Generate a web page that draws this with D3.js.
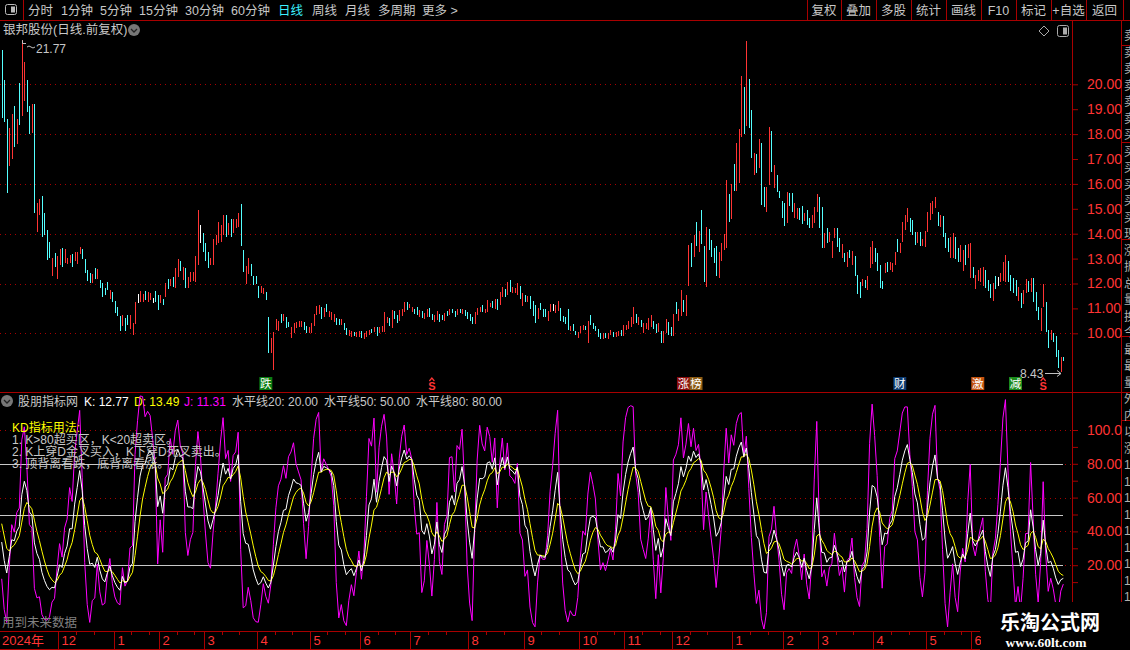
<!DOCTYPE html>
<html>
<head>
<meta charset="utf-8">
<script src="https://cdn.jsdelivr.net/npm/d3@7"></script>
<style>
body{margin:0;background:#000;overflow:hidden}
svg{display:block;font-family:"Liberation Sans","Noto Sans CJK SC",sans-serif}
</style>
</head>
<body>
<svg id="chart" width="1130" height="650"></svg>
<script>
// daily bars
const opens = [
21.35,20.14,18.58,16.75,17.04,19.10,17.63,20.04,18.76,19.36,
20.14,19.10,18.09,19.18,14.11,14.78,15.49,14.79,14.12,13.65,
12.33,13.18,12.23,12.77,13.40,12.87,12.81,12.87,13.14,12.95,
12.81,13.20,13.36,12.96,12.51,12.38,12.04,12.58,12.20,12.11,
11.98,11.78,12.03,11.40,11.63,11.27,11.04,10.67,10.34,10.60,
10.69,10.19,9.96,10.40,11.39,11.27,11.27,11.67,11.29,11.37,
11.33,11.67,11.50,11.23,11.34,11.50,12.14,11.93,12.22,11.84,
12.28,12.86,12.17,12.58,11.84,12.11,12.15,12.11,12.77,13.98,
13.99,13.61,13.25,12.77,12.77,13.58,13.64,13.71,13.98,14.72,
13.98,14.56,14.05,14.25,14.29,15.16,13.32,12.01,12.41,12.75,
12.27,12.27,11.87,11.66,11.61,11.64,10.61,9.23,8.56,10.16,
10.14,10.75,10.53,10.61,10.44,9.86,10.03,10.23,10.27,10.30,
10.44,10.26,10.03,10.03,10.32,10.77,10.81,11.04,10.70,11.15,
10.70,10.57,10.50,10.57,10.53,10.36,10.40,10.17,9.92,9.90,
10.04,9.87,9.87,10.08,9.80,9.90,9.96,10.13,10.07,10.24,
10.06,10.08,10.10,10.46,10.57,10.23,10.88,10.71,10.54,10.73,
10.90,11.23,11.06,10.90,10.96,11.01,10.70,10.88,10.59,10.67,
10.99,10.75,10.50,10.57,10.75,10.72,10.54,10.85,10.75,10.96,
10.88,10.75,10.93,10.81,10.91,10.84,10.75,10.64,10.40,10.77,
10.90,11.09,10.86,10.90,11.07,11.26,10.99,11.36,11.17,11.50,
11.74,11.57,12.11,11.64,11.64,11.57,11.87,11.13,11.51,11.30,
11.47,11.27,11.11,10.59,11.17,10.96,10.93,10.53,10.90,11.05,
10.83,10.94,10.97,10.67,10.64,10.93,10.14,10.34,10.08,9.86,
10.06,10.16,10.26,9.66,10.71,10.37,10.26,10.13,9.97,9.82,
9.97,9.82,9.96,10.02,9.90,9.92,10.10,9.92,10.16,10.19,
10.27,10.40,10.75,10.36,10.51,10.06,10.19,10.16,10.27,10.48,
10.34,10.10,10.08,9.66,10.03,10.44,10.24,9.92,11.24,10.54,
10.73,11.31,10.73,11.93,13.61,13.11,14.45,13.31,14.92,13.48,
11.88,14.15,13.72,13.38,13.48,12.24,12.93,13.38,13.44,15.55,
14.62,16.76,15.76,16.05,17.93,19.88,18.37,20.18,18.94,16.39,
17.16,16.68,17.60,15.86,14.92,15.99,18.11,15.85,16.33,15.69,
15.28,15.19,14.45,15.59,15.59,14.68,14.62,14.99,15.08,14.54,
14.92,14.59,14.27,14.45,14.89,15.46,15.03,13.44,14.19,13.71,
13.07,13.85,14.21,13.81,13.07,13.18,12.71,13.32,12.77,13.09,
12.31,12.04,11.94,12.11,11.77,12.67,12.80,13.41,13.18,12.71,
12.07,12.44,12.82,12.57,12.48,12.77,13.76,13.24,13.71,14.18,
14.51,14.59,14.52,14.05,13.64,14.03,13.55,13.51,14.11,14.58,
14.81,15.05,14.86,14.31,14.68,13.99,13.79,13.07,13.07,13.85,
13.38,12.88,12.53,13.52,13.07,12.27,12.65,11.81,12.13,12.10,
11.94,12.51,12.11,11.94,11.33,12.29,12.10,12.10,12.13,12.08,
12.87,12.31,12.18,12.11,11.33,11.58,11.19,11.64,12.07,11.68,
12.18,11.64,11.04,10.12,11.10,11.24,10.10,9.76,9.97,9.86,
9.30,8.46,9.03];

const highs = [
21.38,20.17,18.61,18.23,18.81,19.13,18.62,20.07,21.77,20.91,
20.17,19.13,19.21,19.21,15.22,15.38,15.52,14.82,14.15,13.68,
13.01,13.21,13.11,13.37,13.43,13.37,13.01,13.15,13.17,13.28,
13.28,13.48,13.39,12.99,12.54,12.41,12.37,12.61,12.58,12.14,
12.01,11.81,12.06,11.74,11.66,11.30,11.07,10.70,10.72,10.63,
10.72,10.72,10.40,11.26,11.58,11.69,11.59,11.70,11.66,11.61,
11.43,11.70,11.53,11.53,11.37,12.03,12.17,12.17,12.25,12.61,
12.99,12.89,12.68,12.61,12.25,12.48,12.45,13.11,14.95,14.35,
14.02,13.64,13.28,13.01,13.78,13.95,14.48,14.35,14.75,14.75,
14.44,14.59,14.58,14.58,14.85,15.19,13.35,12.70,13.01,12.78,
12.30,12.30,11.90,11.90,11.83,11.67,10.64,9.83,10.07,10.56,
10.50,10.78,10.76,10.64,10.47,10.24,10.40,10.47,10.50,10.48,
10.47,10.29,10.27,10.43,10.76,11.11,11.14,11.07,11.00,11.18,
10.91,10.87,10.78,10.60,10.56,10.56,10.43,10.20,10.13,10.11,
10.07,10.07,10.11,10.11,10.03,10.09,10.13,10.16,10.27,10.27,
10.27,10.29,10.86,10.67,10.60,10.94,10.91,10.74,10.94,10.96,
11.27,11.26,11.18,11.07,10.99,11.04,10.94,10.91,10.83,10.99,
11.02,10.78,10.75,10.91,10.78,10.75,10.83,10.88,10.99,10.99,
10.91,10.99,10.96,10.99,10.94,10.87,10.78,10.67,10.87,11.00,
11.04,11.12,10.96,11.34,11.20,11.29,11.37,11.39,11.67,11.87,
11.77,12.07,12.14,11.85,11.81,12.01,11.90,11.61,11.54,11.50,
11.50,11.30,11.14,11.00,11.20,10.99,10.96,10.91,11.18,11.18,
11.14,11.30,11.00,10.70,10.67,10.96,10.29,10.37,10.11,10.07,
10.29,10.33,10.29,10.50,10.74,10.40,10.29,10.16,10.00,10.00,
10.00,10.00,10.13,10.05,10.05,10.11,10.13,10.33,10.33,10.50,
10.67,11.07,10.78,10.64,10.54,10.40,10.43,10.60,10.74,10.51,
10.37,10.40,10.11,10.11,10.56,10.47,10.27,10.78,11.27,10.96,
11.74,11.34,11.54,13.55,13.64,13.95,14.48,14.12,14.95,13.51,
14.26,14.18,13.75,13.41,13.51,13.28,13.61,13.98,16.16,15.58,
15.98,16.79,17.63,18.19,20.33,19.91,21.74,20.21,18.97,17.23,
17.19,17.79,17.63,15.89,15.89,18.27,18.14,16.76,16.36,15.72,
15.31,15.22,15.66,15.62,15.62,15.22,15.05,15.02,15.11,14.82,
14.95,14.62,14.75,15.09,15.58,15.49,15.06,14.02,14.22,14.08,
13.71,14.24,14.24,13.84,13.57,13.21,13.25,13.35,13.31,13.12,
12.34,12.07,12.18,12.14,12.32,13.48,13.71,13.44,13.21,12.74,
12.10,12.81,12.85,12.88,12.81,13.28,13.79,13.61,14.46,14.75,
15.02,14.62,14.55,14.08,14.08,14.06,13.79,14.11,14.89,15.22,
15.31,15.49,14.89,14.75,14.71,14.02,13.82,13.88,14.02,13.88,
13.41,13.55,13.35,13.55,13.57,13.61,12.68,12.34,12.54,12.61,
12.68,12.54,12.14,11.97,12.01,12.32,12.28,12.41,12.85,13.15,
12.90,12.34,12.21,12.14,11.87,11.61,11.74,12.18,12.10,12.24,
12.21,11.67,11.07,11.00,11.97,11.27,10.13,10.13,10.00,9.89,
9.33,9.06,9.06];

const lows = [
18.63,18.50,15.62,16.72,17.01,17.50,17.60,18.37,18.73,19.33,
18.88,18.01,18.06,14.82,14.08,14.75,13.88,13.95,12.95,13.01,
12.30,12.68,12.20,12.74,12.68,12.84,12.78,12.84,12.68,12.92,
12.78,13.17,12.97,12.41,12.12,12.01,12.01,12.18,12.17,11.81,
11.47,11.54,11.74,11.37,11.27,10.80,10.70,10.11,10.31,10.11,
10.33,10.16,9.93,10.37,11.20,11.24,11.24,11.34,11.26,11.34,
11.23,11.27,10.94,11.20,11.14,11.47,11.79,11.90,11.87,11.81,
12.25,12.52,12.14,11.81,11.81,12.08,12.12,12.08,12.74,13.61,
13.28,12.92,12.61,12.74,12.74,13.55,13.61,13.68,13.95,13.88,
13.95,13.88,14.02,14.22,14.26,13.52,12.48,11.98,12.38,12.32,
11.94,11.98,11.41,11.63,11.58,11.34,9.20,9.20,8.53,10.13,
10.11,10.40,10.50,10.20,10.24,9.83,10.00,10.20,10.24,10.27,
10.13,10.00,10.00,10.00,10.29,10.74,10.78,10.56,10.67,10.87,
10.67,10.54,10.47,10.33,10.33,10.33,10.13,9.93,9.89,9.87,
9.89,9.84,9.84,9.80,9.77,9.87,9.93,10.00,10.04,9.89,
10.03,10.05,10.07,10.43,10.29,10.20,10.56,10.40,10.51,10.70,
10.87,10.94,11.03,10.87,10.78,10.74,10.67,10.63,10.56,10.64,
10.67,10.54,10.47,10.54,10.47,10.54,10.51,10.70,10.72,10.80,
10.67,10.72,10.83,10.78,10.70,10.56,10.51,10.37,10.37,10.74,
10.87,10.87,10.83,10.87,11.04,11.00,10.96,10.94,11.14,11.47,
11.47,11.54,11.66,11.61,11.61,11.54,11.37,11.10,11.27,11.27,
10.96,10.70,10.43,10.56,10.94,10.67,10.67,10.50,10.87,10.91,
10.80,10.91,10.50,10.47,10.37,10.13,10.11,10.11,9.93,9.83,
10.03,10.13,10.13,9.63,10.33,10.16,10.11,9.84,9.76,9.79,
9.83,9.79,9.93,9.87,9.87,9.89,9.89,9.89,10.13,10.16,
10.24,10.37,10.43,10.33,10.24,10.03,10.16,10.13,10.24,10.16,
10.00,10.07,9.60,9.63,10.00,9.93,9.89,9.89,10.78,10.51,
10.70,10.87,10.70,11.90,12.68,13.08,13.51,13.28,13.59,12.08,
11.85,13.35,13.08,12.81,12.30,12.21,12.90,13.35,13.41,14.48,
14.59,15.73,15.73,16.02,17.90,17.99,18.34,18.26,17.05,16.36,
16.43,16.65,15.15,15.09,14.89,15.96,16.47,15.82,15.69,15.45,
14.65,14.32,14.42,15.13,14.89,14.65,14.59,14.55,14.38,14.51,
14.35,14.24,14.24,14.42,14.86,14.22,13.41,13.41,13.61,13.68,
13.04,13.82,13.48,13.28,13.04,12.88,12.68,13.04,12.74,12.32,
11.57,11.41,11.91,11.81,11.74,12.64,12.77,12.85,12.50,11.81,
11.78,12.41,12.45,12.54,12.45,12.74,13.28,13.21,13.68,14.15,
14.48,14.08,13.95,13.55,13.61,13.52,13.52,13.48,14.08,14.55,
14.78,15.02,14.32,14.28,13.88,13.41,13.28,13.04,13.04,12.98,
12.88,12.85,12.50,12.74,13.04,12.24,12.21,11.78,12.10,12.07,
11.91,11.81,11.70,11.41,11.30,11.78,11.91,12.07,12.10,12.05,
12.05,11.70,11.61,11.51,11.30,11.03,11.16,11.61,11.67,11.65,
11.27,10.90,10.54,10.09,11.07,10.07,9.42,9.73,9.67,9.06,
8.59,8.43,8.89];

const closes = [
18.66,18.53,15.65,18.20,18.78,17.53,18.59,18.40,21.74,20.88,
18.91,18.04,19.18,14.85,15.19,15.35,13.91,13.98,12.98,13.04,
12.98,12.71,13.08,13.34,12.71,13.34,12.98,13.12,12.71,13.25,
13.25,13.45,13.00,12.44,12.15,12.04,12.34,12.21,12.55,11.84,
11.50,11.57,11.77,11.71,11.30,10.83,10.73,10.14,10.69,10.14,
10.36,10.69,10.37,11.23,11.39,11.66,11.56,11.37,11.63,11.58,
11.33,11.30,10.97,11.50,11.17,12.00,11.82,12.14,11.90,12.58,
12.96,12.55,12.65,11.84,12.22,12.45,12.42,13.08,14.92,13.98,
13.31,12.95,12.64,12.98,13.75,13.92,14.45,14.32,14.72,13.91,
14.41,13.91,14.55,14.55,14.82,13.55,12.51,12.67,12.98,12.35,
11.97,12.01,11.44,11.87,11.80,11.37,9.23,9.80,10.04,10.53,
10.47,10.43,10.73,10.23,10.27,10.21,10.37,10.44,10.47,10.45,
10.16,10.03,10.24,10.40,10.73,11.08,11.11,10.59,10.97,10.90,
10.88,10.84,10.75,10.36,10.36,10.53,10.16,9.96,10.10,10.08,
9.92,10.04,10.08,9.83,10.00,10.06,10.10,10.03,10.24,9.92,
10.24,10.26,10.83,10.64,10.32,10.91,10.59,10.43,10.91,10.93,
11.24,10.97,11.15,11.04,10.81,10.77,10.91,10.66,10.80,10.96,
10.70,10.57,10.72,10.88,10.50,10.57,10.80,10.73,10.96,10.83,
10.70,10.96,10.86,10.96,10.73,10.59,10.54,10.40,10.84,10.97,
11.01,10.90,10.93,11.31,11.17,11.03,11.34,10.97,11.64,11.84,
11.50,12.04,11.69,11.82,11.78,11.98,11.40,11.58,11.30,11.47,
10.99,10.73,10.46,10.97,10.97,10.70,10.70,10.88,11.15,11.05,
11.11,11.27,10.53,10.50,10.40,10.16,10.26,10.14,9.96,10.04,
10.26,10.30,10.16,10.47,10.36,10.19,10.14,9.87,9.79,9.97,
9.86,9.97,10.10,9.90,10.02,10.08,9.92,10.30,10.30,10.47,
10.64,11.04,10.46,10.61,10.27,10.37,10.40,10.57,10.71,10.19,
10.03,10.37,9.63,10.08,10.53,9.96,9.92,10.75,10.81,10.93,
11.71,10.90,11.51,13.52,12.71,13.92,13.54,14.09,13.62,12.11,
14.23,13.38,13.11,12.84,12.33,13.25,13.58,13.95,16.13,14.51,
15.95,15.76,17.60,18.16,20.30,18.02,21.71,18.29,17.08,17.20,
16.46,17.76,15.18,15.12,15.86,18.24,16.50,16.73,15.72,15.48,
14.68,14.35,15.63,15.16,14.92,15.19,15.02,14.58,14.41,14.79,
14.38,14.27,14.72,15.06,15.55,14.25,13.44,13.99,13.64,14.05,
13.68,14.21,13.51,13.31,13.54,12.91,13.22,13.07,13.28,12.35,
11.60,11.44,12.15,11.84,12.29,13.45,13.68,12.88,12.53,11.84,
11.81,12.78,12.48,12.85,12.78,13.25,13.31,13.58,14.43,14.72,
14.99,14.11,13.98,13.58,14.05,13.55,13.76,14.08,14.86,15.19,
15.28,15.46,14.35,14.72,13.91,13.44,13.31,13.85,13.99,13.01,
12.91,13.52,13.32,12.77,13.54,13.58,12.24,12.31,12.51,12.58,
12.65,11.84,11.73,11.44,11.98,11.81,12.10,12.38,12.82,13.12,
12.08,11.73,11.64,11.54,11.84,11.06,11.71,12.15,11.70,12.21,
11.30,10.93,10.57,10.97,11.94,10.10,9.45,10.10,9.70,9.09,
8.62,9.03,8.92];

// month labels on the date axis and the bar where each month starts
const monthLabels = ['12','1','2','3','4','5','6','7','8','9','10','11','12','1','2','3','4','5','6'];
const monthStart  = [23,45,63,81,102,123,143,163,186,208,230,248,267,291,311,325,347,368,386];

const priceTicks = [10,11,12,13,14,15,16,17,18,19,20];
const priceGrid  = [10,12,14,16,18,20];
const kdjTicks   = [10,20,30,40,50,60,70,80,90,100];
const kdjGrid    = [20,40,60,80,100];
const levels     = [20,50,80];
const lastKDJ    = [12.77, 13.49, 11.31];

// signal marks under the bars
const marks = [
  {i:105, t:'跌', bg:'#0b7d12'},
  {i:171, t:'S',  bg:null},
  {i:271, t:'涨', bg:'#8c0c0c'},
  {i:276, t:'榜', bg:'#8a5a12'},
  {i:357, t:'财', bg:'#0c3a70'},
  {i:388, t:'激', bg:'#c4520e'},
  {i:403, t:'减', bg:'#1b8a1b'},
  {i:414, t:'S',  bg:null}
];

const RED = '#ff3434', DRED = '#a80000', CYAN = '#54ffff', TXT = '#c8c8c8';
const N = closes.length;

const svg = d3.select('#chart');
svg.append('rect').attr('width',1130).attr('height',650).attr('fill','#000');

const x  = d3.scalePoint().domain(d3.range(N)).range([1.7, 1063.3]);
const yP = d3.scaleLinear().domain([10,20]).range([333.3, 84.3]);
const yK = d3.scaleLinear().domain([0,100]).range([599, 430]);
const step = x.step();

// ---------- toolbar ----------
const tb = svg.append('g').attr('font-size', 12.5);
tb.append('line').attr('x1',0).attr('x2',1130).attr('y1',20.5).attr('y2',20.5).attr('stroke',DRED);
tb.append('line').attr('x1',23.5).attr('x2',23.5).attr('y1',0).attr('y2',20).attr('stroke',DRED);
tb.append('rect').attr('x',5.5).attr('y',4.5).attr('width',11).attr('height',10).attr('rx',2)
  .attr('fill','none').attr('stroke','#bbb');
tb.append('rect').attr('x',11).attr('y',6.5).attr('width',4).attr('height',6).attr('fill','#bbb');

const leftBtns = [['分时',28],['1分钟',61],['5分钟',100],['15分钟',139],['30分钟',185],
  ['60分钟',231],['日线',278],['周线',312],['月线',345],['多周期',378],['更多 >',422]];
tb.selectAll('text.lb').data(leftBtns).join('text')
  .attr('x', d => d[1]).attr('y', 15)
  .attr('fill', d => d[0] === '日线' ? '#3cf0ff' : TXT)
  .text(d => d[0]);

const rightBtns = ['复权','叠加','多股','统计','画线','F10','标记','+自选','返回'];
const btnEdges = [807,841,876,911,946,981,1016,1051,1086,1123];
tb.selectAll('line.sep').data(btnEdges).join('line')
  .attr('x1', d => d + 0.5).attr('x2', d => d + 0.5).attr('y1',0).attr('y2',20).attr('stroke',DRED);
tb.selectAll('text.rb').data(rightBtns).join('text')
  .attr('x', (d,k) => (btnEdges[k] + btnEdges[k+1]) / 2).attr('y', 15)
  .attr('text-anchor','middle').attr('fill', TXT).text(d => d);

// ---------- right side frame ----------
svg.append('line').attr('x1',1072.5).attr('x2',1072.5).attr('y1',21).attr('y2',602).attr('stroke',DRED);
svg.append('line').attr('x1',1121.5).attr('x2',1121.5).attr('y1',21).attr('y2',650).attr('stroke',DRED);
[45,142,239,336,392,420].forEach(y => {
  svg.append('line').attr('x1',1121).attr('x2',1130).attr('y1',y+0.5).attr('y2',y+0.5).attr('stroke',DRED);
});
const sideChars = ['卖','卖','卖','卖','卖','卖','买','买','买','买','买','买','现','涨','振','总','量','换','今','最','最','量','外','内','以','涨','1','1','1','1','1','1','1','1','1','1'];
svg.append('g').attr('font-size',12).attr('fill','#b0b0b0')
  .selectAll('text').data(sideChars).join('text')
  .attr('x',1124).attr('y',(d,k) => 40 + k*16.5).text(d => d);

// ---------- price panel ----------
const gP = svg.append('g');
gP.append('text').attr('x',3).attr('y',34).attr('font-size',12.5).attr('fill',TXT).text('银邦股份(日线.前复权)');
gP.append('circle').attr('cx',134).attr('cy',30).attr('r',6).attr('fill','#777');
gP.append('path').attr('d','M131,29 l3,3 l3,-3').attr('fill','none').attr('stroke','#222').attr('stroke-width',1.3);
gP.append('path').attr('d','M1044,26 l5,5 l-5,5 l-5,-5 z').attr('fill','none').attr('stroke','#aaa');
gP.append('rect').attr('x',1057.5).attr('y',25.5).attr('width',11).attr('height',11).attr('rx',2)
  .attr('fill','none').attr('stroke','#aaa');
gP.append('rect').attr('x',1063).attr('y',27.5).attr('width',4).attr('height',7).attr('fill','#aaa');

gP.selectAll('line.grid').data(priceGrid).join('line')
  .attr('x1',0).attr('x2',1072).attr('y1', d => Math.round(yP(d)) + 0.5).attr('y2', d => Math.round(yP(d)) + 0.5)
  .attr('stroke',DRED).attr('stroke-dasharray','1,4');

const pAxis = gP.append('g').attr('transform','translate(1072,0)')
  .call(d3.axisRight(yP).tickValues(priceTicks).tickFormat(d3.format('.2f')).tickSize(6).tickPadding(9));
pAxis.select('.domain').remove();
pAxis.selectAll('line').attr('stroke',DRED);
pAxis.selectAll('text').attr('fill',RED).attr('font-size',14).attr('font-family','Liberation Sans');

svg.append('clipPath').attr('id','clipP').append('rect').attr('x',0).attr('y',21).attr('width',1072).attr('height',370);
const barColor = i => closes[i] > opens[i] ? RED : closes[i] < opens[i] ? CYAN : '#ffffff';
const bars = gP.append('g').attr('clip-path','url(#clipP)').attr('shape-rendering','crispEdges');
bars.selectAll('line').data(d3.range(N)).join('line')
  .attr('x1', i => Math.round(x(i)) + 0.5).attr('x2', i => Math.round(x(i)) + 0.5)
  .attr('y1', i => yP(highs[i])).attr('y2', i => yP(lows[i]))
  .attr('stroke', barColor).attr('stroke-width',1);

// high / low notes
const iHi = d3.maxIndex(highs), iLo = d3.minIndex(lows);
const hx = Math.round(x(iHi));
gP.append('path').attr('d',`M${hx+0.5},${yP(highs[iHi])} V43.5 H${hx+4} M${hx+5},47 q2,-2 4,0 t4,0`)
  .attr('fill','none').attr('stroke','#c0c0c0');
gP.append('text').attr('x',hx+14).attr('y',53).attr('font-size',12).attr('fill',TXT).text(d3.format('.2f')(highs[iHi]));
const lx = Math.round(x(iLo));
gP.append('text').attr('x',lx-41).attr('y',378).attr('font-size',12).attr('fill',TXT).text(d3.format('.2f')(lows[iLo]));
gP.append('path').attr('d',`M${lx-16},373.5 H${lx} l-4,-3 M${lx},373.5 l-4,3`).attr('fill','none').attr('stroke','#c0c0c0');

const mk = gP.append('g');
marks.forEach(m => {
  const cx = x(m.i);
  if (m.bg) {
    mk.append('rect').attr('x',cx-6.5).attr('y',377).attr('width',13).attr('height',13).attr('fill',m.bg);
    mk.append('text').attr('x',cx).attr('y',388).attr('text-anchor','middle').attr('font-size',11.5)
      .attr('fill','#fff').text(m.t);
  } else {
    mk.append('path').attr('d',`M${cx-2.5},381 l2.5,-3 l2.5,3`).attr('fill','none').attr('stroke',RED).attr('stroke-width',1.2);
    mk.append('text').attr('x',cx).attr('y',390).attr('text-anchor','middle').attr('font-size',11)
      .attr('font-weight','bold').attr('fill',RED).text(m.t);
  }
});

svg.append('line').attr('x1',0).attr('x2',1130).attr('y1',392.5).attr('y2',392.5).attr('stroke',DRED);

// ---------- KDJ panel ----------
const kv = [], dv = [], jv = [];
let k = 50, d = 50;
for (let i = 0; i < N; i++) {
  const s = Math.max(0, i - 8);
  const hh = d3.max(highs.slice(s, i + 1)), ll = d3.min(lows.slice(s, i + 1));
  const rsv = hh === ll ? 50 : (closes[i] - ll) / (hh - ll) * 100;
  k = (2 * k + rsv) / 3;
  d = (2 * d + k) / 3;
  kv.push(k); dv.push(d); jv.push(3 * k - 2 * d);
}

const gK = svg.append('g');
gK.append('circle').attr('cx',7).attr('cy',401).attr('r',6).attr('fill','#777');
gK.append('path').attr('d','M4,400 l3,3 l3,-3').attr('fill','none').attr('stroke','#222').attr('stroke-width',1.3);
const head = [
  ['股朋指标网', 18, TXT],
  ['K: ' + lastKDJ[0].toFixed(2), 84, '#ffffff'],
  ['D: ' + lastKDJ[1].toFixed(2), 134, '#ffff00'],
  ['J: ' + lastKDJ[2].toFixed(2), 184, '#ff00ff'],
  ['水平线20: ' + levels[0].toFixed(2), 232, TXT],
  ['水平线50: ' + levels[1].toFixed(2), 324, TXT],
  ['水平线80: ' + levels[2].toFixed(2), 416, TXT]
];
gK.selectAll('text.h').data(head).join('text')
  .attr('x', h => h[1]).attr('y', 406).attr('font-size',12).attr('fill', h => h[2]).text(h => h[0]);

gK.selectAll('line.grid').data(kdjGrid).join('line')
  .attr('x1',0).attr('x2',1072).attr('y1', v => Math.round(yK(v)) + 0.5).attr('y2', v => Math.round(yK(v)) + 0.5)
  .attr('stroke',DRED).attr('stroke-dasharray','1,4');
gK.selectAll('line.lvl').data(levels).join('line')
  .attr('x1',0).attr('x2',1063).attr('y1', v => Math.round(yK(v)) + 0.5).attr('y2', v => Math.round(yK(v)) + 0.5)
  .attr('stroke','#c8c8c8');

const kAxis = gK.append('g').attr('transform','translate(1072,0)')
  .call(d3.axisRight(yK).tickValues(kdjTicks).tickSize(6).tickPadding(9)
    .tickFormat(v => v === 100 ? '100.0' : v % 20 === 0 ? v.toFixed(2) : ''));
kAxis.select('.domain').remove();
kAxis.selectAll('line').attr('stroke',DRED);
kAxis.selectAll('text').attr('fill',RED).attr('font-size',14).attr('font-family','Liberation Sans');

svg.append('clipPath').attr('id','clipK').append('rect').attr('x',0).attr('y',394).attr('width',1072).attr('height',235);
const lines = gK.append('g').attr('clip-path','url(#clipK)').attr('fill','none').attr('stroke-width',1);
const line = d3.line().x((v,i) => x(i)).y(v => yK(v));
lines.append('path').attr('d', line(jv)).attr('stroke','#ff00ff');
lines.append('path').attr('d', line(dv)).attr('stroke','#ffff00');
lines.append('path').attr('d', line(kv)).attr('stroke','#ffffff');

const usage = ['KD指标用法:', '1. K>80超买区，K<20超卖区。', '2. K上穿D金叉买入，K下穿D死叉卖出。', '3. 顶背离看跌，底背离看涨。'];
gK.selectAll('text.u').data(usage).join('text')
  .attr('x',12).attr('y',(t,n) => 432 + n*12).attr('font-size',12)
  .attr('fill',(t,n) => n === 0 ? '#ffff00' : TXT).text(t => t);

gK.append('text').attr('x',2).attr('y',627).attr('font-size',12.5).attr('fill','#808080').text('用到未来数据');

// ---------- date axis ----------
const gA = svg.append('g').attr('shape-rendering','crispEdges');
gA.append('line').attr('x1',0).attr('x2',980).attr('y1',631.5).attr('y2',631.5).attr('stroke',DRED);
gA.append('line').attr('x1',0).attr('x2',980).attr('y1',649.5).attr('y2',649.5).attr('stroke',DRED);
const sepX = i => Math.round(x(i) - step / 2) + 0.5;
gA.selectAll('line.m').data(monthStart).join('line')
  .attr('x1', sepX).attr('x2', sepX).attr('y1',631).attr('y2',650).attr('stroke',DRED);
const minor = [];
monthStart.forEach((s, n) => {
  const e = n + 1 < monthStart.length ? monthStart[n + 1] : N;
  [7, 14].forEach(o => { if (s + o < e - 2) minor.push(s + o); });
});
gA.selectAll('line.t').data(minor).join('line')
  .attr('x1', sepX).attr('x2', sepX).attr('y1',631).attr('y2',635).attr('stroke',DRED);
gA.append('text').attr('x',2).attr('y',645).attr('font-size',13).attr('fill',RED).text('2024年');
gA.selectAll('text.m').data(monthStart).join('text')
  .attr('x', i => sepX(i) + 3).attr('y',645).attr('font-size',13).attr('fill',RED)
  .text((i,n) => monthLabels[n]);

// ---------- watermark ----------
svg.append('rect').attr('x',981).attr('y',602).attr('width',149).attr('height',48).attr('fill','#000');
svg.append('text').attr('x',1050).attr('y',630).attr('text-anchor','middle').attr('font-size',20)
  .attr('font-weight','bold').attr('font-family','Noto Sans CJK SC').attr('fill','#fff').text('乐淘公式网');
svg.append('text').attr('x',1046).attr('y',647).attr('text-anchor','middle').attr('font-size',13.5)
  .attr('font-weight','bold').attr('font-family','Liberation Serif').attr('fill','#fff').text('www.60lt.com');
</script>
</body>
</html>
